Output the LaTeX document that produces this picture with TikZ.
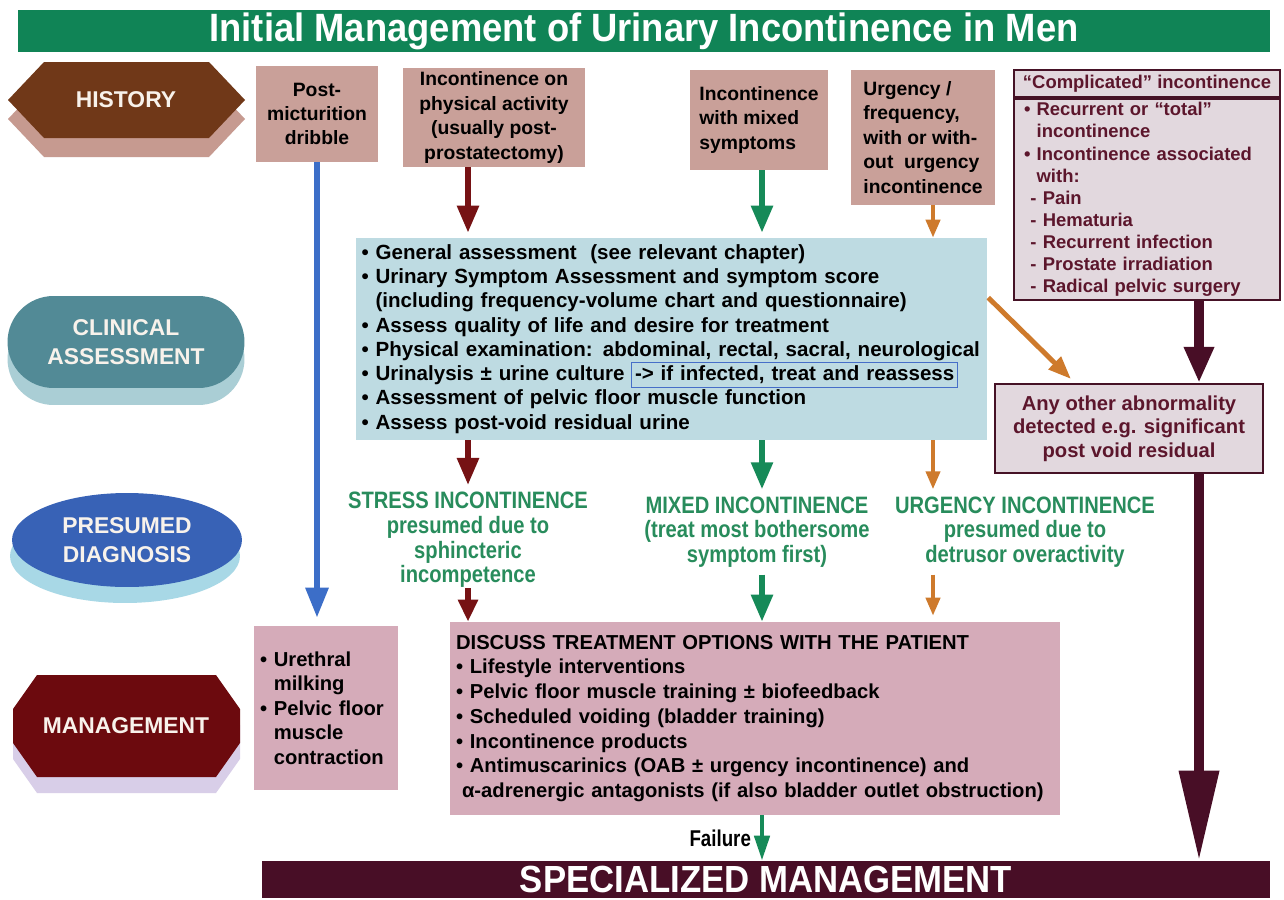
\documentclass[tikz,border=0pt]{standalone}
\usepackage{fontspec}
\setmainfont{Liberation Sans}
\newfontfamily\condfont[FakeStretch=0.82]{Liberation Sans}
\newfontfamily\titlefont[FakeStretch=0.92]{Liberation Sans}
\newfontfamily\diagfont[FakeStretch=0.85]{Liberation Sans}
\usepackage{tikz}
\usetikzlibrary{arrows.meta,positioning,shapes.geometric,shapes.misc,shadows,calc}
\setlength{\fboxsep}{1.5pt}
\setlength{\fboxrule}{0.6pt}
\definecolor{uigreen}{RGB}{16,132,86}
\definecolor{histbrown}{RGB}{112,56,24}
\definecolor{histshade}{RGB}{198,154,144}
\definecolor{clinteal}{RGB}{82,138,150}
\definecolor{clinshade}{RGB}{170,206,213}
\definecolor{diagblue}{RGB}{56,98,182}
\definecolor{diagshade}{RGB}{168,216,230}
\definecolor{mgmtred}{RGB}{108,10,14}
\definecolor{mgmtshade}{RGB}{216,206,232}
\definecolor{stagetext}{RGB}{248,242,235}
\definecolor{srcfill}{RGB}{201,160,153}
\definecolor{assessfill}{RGB}{190,219,226}
\definecolor{framblue}{RGB}{70,110,200}
\definecolor{cplxfill}{RGB}{226,216,222}
\definecolor{cplxline}{RGB}{70,18,38}
\definecolor{cplxtext}{RGB}{92,22,44}
\definecolor{treatfill}{RGB}{213,171,185}
\definecolor{diaggreen}{RGB}{40,140,92}
\definecolor{arrred}{RGB}{118,18,20}
\definecolor{arrgreen}{RGB}{22,138,88}
\definecolor{arrorange}{RGB}{206,122,44}
\definecolor{arrblue}{RGB}{60,110,200}
\definecolor{arrmaroon}{RGB}{72,14,38}
\definecolor{specmaroon}{RGB}{72,14,38}

\begin{document}
\begin{tikzpicture}[x=0.02cm, y=-0.02cm,
  font=\bfseries\fontsize{11.7}{13.8}\selectfont,
  band/.style={inner sep=0pt, text=white, font=\titlefont\bfseries\fontsize{22.5}{24}\selectfont},
  stage/.style={align=center, inner sep=0pt, text=stagetext, font=\bfseries\fontsize{13}{16.5}\selectfont},
  srcbox/.style={fill=srcfill, inner sep=0pt, font=\bfseries\fontsize{11}{13.9}\selectfont},
  diag/.style={align=center, inner sep=4pt, text=diaggreen, font=\diagfont\bfseries\fontsize{13.5}{14}\selectfont},
  cplx/.style={draw=cplxline, line width=1.2pt, fill=cplxfill, text=cplxtext},
  redarr/.style={draw=arrred, line width=3.2pt, -{Triangle[width=0.42cm,length=0.54cm]}},
  grnarr/.style={draw=arrgreen, line width=3.2pt, -{Triangle[width=0.42cm,length=0.54cm]}},
  orgarr/.style={draw=arrorange, line width=2.3pt, -{Triangle[width=0.28cm,length=0.36cm]}},
  bluarr/.style={draw=arrblue, line width=3.4pt, -{Triangle[width=0.44cm,length=0.6cm]}},
  marmid/.style={draw=arrmaroon, line width=5.7pt, -{Triangle[width=0.56cm,length=0.72cm]}},
  marbig/.style={draw=arrmaroon, line width=5.7pt, -{Triangle[width=0.76cm,length=1.8cm]}},
]
  \useasboundingbox (0,0) rectangle (1284,899);
  \fill[white] (0,0) rectangle (1284,899);

  % Title
  \node[band, fill=uigreen, minimum width=25.04cm, minimum height=0.84cm] (title) at (644,31) {Initial Management of Urinary Incontinence in Men};

  % Stage plaques
  \fill[histshade, shift={(0,19)}] (8,100) -- (44,62) -- (209,62) -- (245,100) -- (209,138) -- (44,138) -- cycle;
  \fill[histbrown] (8,100) -- (44,62) -- (209,62) -- (245,100) -- (209,138) -- (44,138) -- cycle;
  \node[stage] (hist) at (126,100) {HISTORY};

  \node[stage, rounded rectangle, fill=clinteal, minimum width=4.74cm, minimum height=1.84cm,
        general shadow={fill=clinshade, shadow yshift=-0.34cm}] (clin) at (126,342) {CLINICAL\\ASSESSMENT};

  \node[stage, ellipse, fill=diagblue, minimum width=4.6cm, minimum height=1.88cm,
        general shadow={fill=diagshade, shadow yshift=-0.32cm, shadow xshift=-0.04cm}] (pdiag) at (127,540) {PRESUMED\\DIAGNOSIS};

  \fill[mgmtshade, shift={(0,16)}] (13,709) -- (37,675) -- (216,675) -- (240,709) -- (240,743) -- (216,777) -- (37,777) -- (13,743) -- cycle;
  \fill[mgmtred] (13,709) -- (37,675) -- (216,675) -- (240,709) -- (240,743) -- (216,777) -- (37,777) -- (13,743) -- cycle;
  \node[stage] (mgmt) at (126,726) {MANAGEMENT};

  % History boxes
  \node[srcbox, align=center, minimum width=2.44cm, minimum height=1.92cm] (dribble) at (317,114) {Post-\\micturition\\dribble};
  \node[srcbox, align=center, minimum width=3.64cm, minimum height=1.98cm] (physical) at (494,117.5) {Incontinence on\\physical activity\\(usually post-\\prostatectomy)};
  \node[srcbox, align=left, minimum width=2.76cm, minimum height=2.0cm] (mixedsrc) at (759,120) {Incontinence\\with mixed\\symptoms};
  \node[srcbox, align=left, minimum width=2.88cm, minimum height=2.7cm] (urgsrc) at (923,137.5) {Urgency /\\frequency,\\with or with-\\out\ \ urgency\\incontinence};

  % Complicated incontinence
  \node[cplx, minimum width=5.32cm, minimum height=0.54cm, inner sep=0pt, font=\bfseries\fontsize{10.5}{12.6}\selectfont] (cplxhead) at (1147,83.5) {“Complicated” incontinence};
  \node[cplx, below=0pt of cplxhead, align=left, text width=4.92cm, inner xsep=0.2cm, inner ysep=0pt, minimum height=4.02cm, font=\bfseries\fontsize{10.5}{12.6}\selectfont] (cplx) {• Recurrent or “total”\\
\hphantom{• }incontinence\\
• Incontinence associated\\
\hphantom{• }with:\\
\hphantom{•}- Pain\\
\hphantom{•}- Hematuria\\
\hphantom{•}- Recurrent infection\\
\hphantom{•}- Prostate irradiation\\
\hphantom{•}- Radical pelvic surgery};
  \node[cplx, align=center, minimum width=5.36cm, minimum height=1.78cm, inner sep=0pt, font=\bfseries\fontsize{11.5}{13.4}\selectfont] (other) at (1129,428.5) {Any other abnormality\\detected e.g. significant\\post void residual};

  % Clinical assessment
  \node[fill=assessfill, align=left, text width=12.4cm, inner xsep=0.11cm, inner ysep=0pt, minimum height=4.04cm] (assess) at (671.5,339) {• General assessment\ \ (see relevant chapter)\\
• Urinary Symptom Assessment and symptom score\\
\hphantom{• }(including frequency-volume chart and questionnaire)\\
• Assess quality of life and desire for treatment\\
• Physical examination: abdominal, rectal, sacral, neurological\\
• Urinalysis ± urine culture \smash{\fcolorbox{framblue}{assessfill}{-> if infected, treat and reassess}}\\
• Assessment of pelvic floor muscle function\\
• Assess post-void residual urine};

  % Presumed diagnosis
  \node[diag] (stress) at (468,540) {STRESS INCONTINENCE\\presumed due to\\sphincteric\\incompetence};
  \node[diag] (mixed) at (757,532) {MIXED INCONTINENCE\\(treat most bothersome\\symptom first)};
  \node[diag] (urgency) at (1025,532) {URGENCY INCONTINENCE\\presumed due to\\detrusor overactivity};

  % Management
  \node[fill=treatfill, align=left, text width=2.64cm, inner xsep=0.12cm, inner ysep=0pt, minimum height=3.28cm, font=\bfseries\fontsize{11.5}{14}\selectfont] (milk) at (326,708) {• Urethral\\
\hphantom{• }milking\\
• Pelvic floor\\
\hphantom{• }muscle\\
\hphantom{• }contraction};
  \node[fill=treatfill, align=left, text width=11.96cm, inner xsep=0.12cm, inner ysep=0pt, minimum height=3.86cm, font=\bfseries\fontsize{11.5}{14.1}\selectfont] (treat) at (755,718.5) {DISCUSS TREATMENT OPTIONS WITH THE PATIENT\\
• Lifestyle interventions\\
• Pelvic floor muscle training ± biofeedback\\
• Scheduled voiding (bladder training)\\
• Incontinence products\\
• Antimuscarinics (OAB ± urgency incontinence) and\\
\hspace*{0.12cm}α-adrenergic antagonists (if also bladder outlet obstruction)};

  \node[band, fill=specmaroon, minimum width=20.16cm, minimum height=0.74cm, font=\titlefont\bfseries\fontsize{21.5}{23}\selectfont] (spec) at (766,879.5) {SPECIALIZED MANAGEMENT};

  % Arrow columns
  \coordinate (gcol) at (762,0);
  \coordinate (ocol) at (933,0);
  \coordinate (mcol) at (1199,0);

  % Arrows
  \draw[bluarr, shorten >=0.16cm] (dribble.south) -- (dribble.south |- milk.north);
  \draw[redarr, shorten >=0.1cm] (physical.south -| stress) -- (assess.north -| stress);
  \draw[grnarr, shorten >=0.1cm] (mixedsrc.south -| gcol) -- (assess.north -| gcol);
  \draw[orgarr] (urgsrc.south -| ocol) -- (assess.north -| ocol);
  \draw[orgarr, line width=2.8pt, -{Triangle[width=0.34cm,length=0.46cm]}] ($(assess.north east)+(1,60)$) -- ($(other.north west)+(77,-4)$);
  \draw[marmid] (cplx.south -| mcol) -- (other.north -| mcol);
  \draw[marbig] (other.south -| mcol) -- (spec.north -| mcol);

  \draw[redarr] (assess.south -| stress) -- (stress.north);
  \draw[grnarr] (assess.south -| gcol) -- (mixed.north -| gcol);
  \draw[orgarr] (assess.south -| ocol) -- (urgency.north -| ocol);
  \draw[redarr, shorten <=-0.14cm, -{Triangle[width=0.38cm,length=0.44cm]}] (stress.south) -- (treat.north -| stress);
  \draw[grnarr] (mixed.south -| gcol) -- (treat.north -| gcol);
  \draw[orgarr, shorten >=0.12cm] (urgency.south -| ocol) -- (treat.north -| ocol);
  \draw[grnarr, line width=2.6pt, -{Triangle[width=0.3cm,length=0.5cm]}] (treat.south -| gcol) -- node[left, inner sep=5pt, font=\condfont\bfseries\fontsize{13}{14}\selectfont] (fail) {Failure} (spec.north -| gcol);
\end{tikzpicture}
\end{document}
